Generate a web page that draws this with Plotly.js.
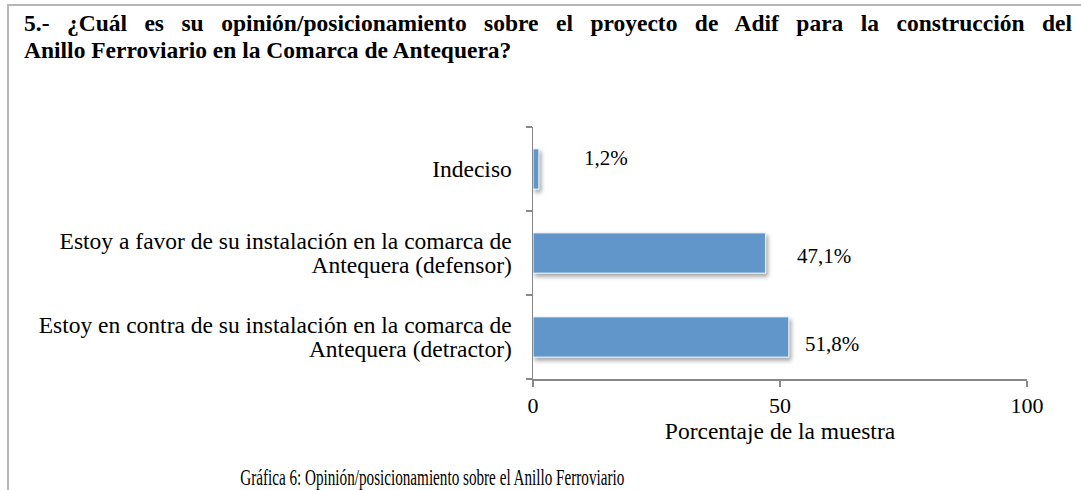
<!DOCTYPE html>
<html>
<head>
<meta charset="utf-8">
<script src="https://cdn.plot.ly/plotly-3.0.1.min.js"></script>
<style>
  html, body { margin: 0; padding: 0; background: #fff; }
  #wrap { position: relative; width: 1081px; height: 490px; overflow: hidden; }
  #chart { width: 1081px; height: 490px; }
  #frame { position: absolute; left: 7px; top: 4px; width: 1100px; height: 600px;
           border-left: 2px solid #b8b8b8; border-top: 2px solid #b8b8b8; pointer-events: none; }
  .bars .point path { filter: drop-shadow(2px 3px 2px rgba(0,0,0,0.35)); }
</style>
</head>
<body>
<div id="wrap">
  <div id="chart"></div>
  <div id="frame"></div>
</div>
<script>
// Data (bottom to top, as Plotly draws horizontal bars)
const categories = [
  'Estoy en contra de su instalación en la comarca de<br>Antequera (detractor)',
  'Estoy a favor de su instalación en la comarca de<br>Antequera (defensor)',
  'Indeciso'
];
const values = [51.8, 47.1, 1.2];
const valueLabels = ['51,8%', '47,1%', '1,2%'];
const xTickVals = [0, 50, 100];
const xTickText = ['0', '50', '100'];

const titleLines = [
  '5.- ¿Cuál es su opinión/posicionamiento sobre el proyecto de Adif para la construcción del',
  'Anillo Ferroviario en la Comarca de Antequera?'
];
const xAxisTitle = 'Porcentaje de la muestra';
const captionText = 'Gráfica 6: Opinión/posicionamiento sobre el Anillo Ferroviario';

// label offsets (style only, in pixels)
const labelShiftX = [14, 29, 43];
const labelShiftY = [-7, -3, 11];

const serif = '"Liberation Serif", "Times New Roman", serif';

const trace = {
  type: 'bar',
  orientation: 'h',
  y: categories,
  x: values,
  width: 0.48,
  marker: { color: '#6096c9', line: { color: '#ffffff', width: 1 } },
  hoverinfo: 'none'
};

const annotations = values.map((v, i) => ({
  x: v, y: categories[i], xref: 'x', yref: 'y',
  text: valueLabels[i], showarrow: false,
  xanchor: 'left', yanchor: 'middle',
  xshift: labelShiftX[i], yshift: labelShiftY[i],
  font: { family: serif, size: 21, color: '#000' }
}));

annotations.push({
  xref: 'paper', yref: 'paper', x: -1.034, y: 1.0, xanchor: 'left', yanchor: 'top',
  yshift: 119, align: 'left', showarrow: false,
  text: titleLines.join('<br>'),
  font: { family: serif, size: 23.5, color: '#000', weight: 'bold' }
});
annotations.push({
  xref: 'paper', yref: 'paper', x: -0.203, y: 0, xanchor: 'center', yanchor: 'bottom',
  yshift: -113, showarrow: false, text: captionText,
  font: { family: serif, size: 23, color: '#000' }
});

const layout = {
  width: 1081, height: 490,
  margin: { l: 533, r: 54, t: 127, b: 111, pad: 0 },
  paper_bgcolor: '#ffffff', plot_bgcolor: '#ffffff',
  showlegend: false,
  font: { family: serif, size: 22, color: '#000' },
  xaxis: {
    range: [0, 100], tickvals: xTickVals, ticktext: xTickText,
    showgrid: false, zeroline: false,
    showline: true, linecolor: '#888888', linewidth: 1.5,
    ticks: 'outside', ticklen: 6, tickcolor: '#888888', tickwidth: 1.5,
    ticklabelstandoff: 0,
    tickfont: { family: serif, size: 22, color: '#000' },
    title: { text: xAxisTitle, font: { family: serif, size: 23.5, color: '#000' }, standoff: 1 },
    fixedrange: true
  },
  yaxis: {
    type: 'category',
    showgrid: false, zeroline: false,
    showline: true, linecolor: '#888888', linewidth: 1.5,
    ticks: 'outside', ticklen: 6, tickcolor: '#888888', tickwidth: 1.5,
    tickson: 'boundaries',
    ticklabelstandoff: 15,
    tickfont: { family: serif, size: 23.5, color: '#000' },
    fixedrange: true
  },
  annotations: annotations
};

// tighten line spacing of a multi-line svg text (pure styling)
function tightenLines(textEl, em, fontSize, recenter) {
  const lines = textEl.querySelectorAll('tspan.line');
  if (lines.length < 2) return;
  const shift = recenter ? (lines.length - 1) * (1.3 - em) / 2 * fontSize : 0;
  lines.forEach(function (ln, i) {
    ln.setAttribute('dy', (i * em) + 'em');
    const y = parseFloat(ln.getAttribute('y'));
    if (!isNaN(y)) ln.setAttribute('y', y + shift);
  });
}

Plotly.newPlot('chart', [trace], layout, { displayModeBar: false, staticPlot: true }).then(function (gd) {
  document.querySelectorAll('.ytick text').forEach(function (t) {
    tightenLines(t, 1.0, 23.5, true);
  });
  document.querySelectorAll('.annotation-text').forEach(function (t) {
    const txt = t.textContent;
    if (txt.indexOf('5.-') === 0) {
      tightenLines(t, 1.15, 23.5, false);
      const first = t.querySelector('tspan.line');
      if (first) {
        const w = first.getComputedTextLength();
        const spaces = (titleLines[0].match(/ /g) || []).length;
        const target = 1048;
        if (w < target) first.style.wordSpacing = ((target - w) / spaces) + 'px';
      }
    } else if (txt.indexOf('Gráfica') === 0) {
      t.style.transformBox = 'fill-box';
      t.style.transformOrigin = 'center';
      t.style.transform = 'scaleX(0.66)';
    }
  });
});
</script>
</body>
</html>
